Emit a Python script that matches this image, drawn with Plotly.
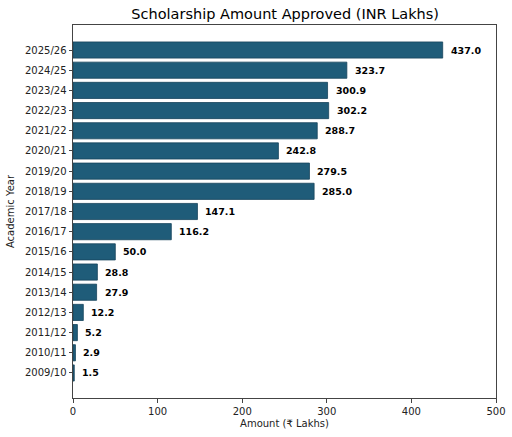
import plotly.graph_objects as go

# academic years, bottom to top
years = ['2009/10', '2010/11', '2011/12', '2012/13', '2013/14', '2014/15',
         '2015/16', '2016/17', '2017/18', '2018/19', '2019/20', '2020/21',
         '2021/22', '2022/23', '2023/24', '2024/25', '2025/26']
amount = [1.5, 2.9, 5.2, 12.2, 27.9, 28.8, 50.0, 116.2, 147.1, 285.0,
          279.5, 242.8, 288.7, 302.2, 300.9, 323.7, 437.0]
labels = ['%.1f' % a for a in amount]

fig = go.Figure()
fig.add_trace(go.Bar(
    x=amount, y=years, orientation='h',
    width=0.8,
    marker=dict(color='#1f5c79', line=dict(color='#17445c', width=0.8)),
))

# value labels just right of each bar
for yr, a, lab in zip(years, amount, labels):
    fig.add_annotation(x=a, y=yr, text=lab, showarrow=False,
                       xanchor='left', yanchor='middle', xshift=6,
                       font=dict(family='DejaVu Sans', size=9.5, color='black', weight='bold'))

fig.update_layout(
    width=512, height=437,
    margin=dict(l=73, r=16, t=25, b=39),
    paper_bgcolor='white', plot_bgcolor='white',
    font=dict(family='DejaVu Sans', size=10, color='#222'),
    title=dict(text='Scholarship Amount Approved (INR Lakhs)',
               x=0.557, xanchor='center', y=0.968, yanchor='middle',
               font=dict(size=14.5, color='black')),
    showlegend=False,
)
fig.update_xaxes(range=[0, 500], tickvals=[0, 100, 200, 300, 400, 500],
                 showgrid=False, zeroline=False, automargin=False,
                 showline=True, linecolor='#444', linewidth=1, mirror=True,
                 ticks='outside', ticklen=3.5, tickcolor='#444',
                 title=dict(text='Amount (₹ Lakhs)', standoff=4, font=dict(size=10)))
fig.update_yaxes(range=[-1.24, 17.24], showgrid=False, zeroline=False, automargin=False,
                 showline=True, linecolor='#444', linewidth=1, mirror=True,
                 ticks='outside', ticklen=3.5, tickcolor='#444',
                 title=dict(text='Academic Year', standoff=8, font=dict(size=10)))

# drop the default page margin so the figure sits at the window's corner
fig.write_html("out.html", config={'displayModeBar': False},
               post_script="document.body.style.margin='0';")
